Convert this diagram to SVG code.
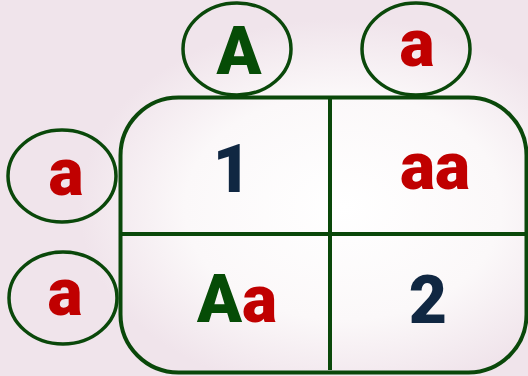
<svg xmlns="http://www.w3.org/2000/svg" width="528" height="376" viewBox="0 0 528 376">
<defs>
<radialGradient id="bg" cx="0.65" cy="0.55" r="0.5">
<stop offset="0" stop-color="#ffffff"/>
<stop offset="0.6" stop-color="#fbf8f9"/>
<stop offset="1" stop-color="#f0e4eb"/>
</radialGradient>
<style>
.ln{fill:none;stroke:#0a480a;stroke-width:4}
.el{fill:none;stroke:#0a480a;stroke-width:3.5}
text{font-family:Roboto,"Liberation Sans",sans-serif;font-weight:900;text-anchor:middle}
.g{fill:#064c06}.r{fill:#c00000}.n{fill:#102742}
</style>
</defs>
<rect width="528" height="376" fill="#f0e4eb"/>
<rect width="528" height="376" fill="url(#bg)"/>
<g id="connectors">
<rect class="ln" x="120.5" y="97.5" width="406" height="275" rx="58" ry="58"/>
<line class="ln" x1="330" y1="97.5" x2="330" y2="370"/>
<line class="ln" x1="120.5" y1="234" x2="528" y2="234"/>
</g>
<g id="top-A"><ellipse class="el" cx="237" cy="49" rx="54" ry="46"/><text class="g" x="239" y="74" font-size="66">A</text></g>
<g id="top-a"><ellipse class="el" cx="416" cy="49" rx="54" ry="46"/><text class="r" x="417" y="66" font-size="66">a</text></g>
<g id="left-a1"><ellipse class="el" cx="62" cy="176" rx="54" ry="46"/><text class="r" x="66" y="195" font-size="66">a</text></g>
<g id="left-a2"><ellipse class="el" cx="63" cy="298" rx="54" ry="46"/><text class="r" x="65" y="315" font-size="66">a</text></g>
<g id="cell-1"><text class="n" x="232" y="192" font-size="66">1</text></g>
<g id="cell-aa"><text class="r" x="435" y="189" font-size="66">aa</text></g>
<g id="cell-Aa"><text x="237" y="322" font-size="66"><tspan class="g">A</tspan><tspan class="r">a</tspan></text></g>
<g id="cell-2"><text class="n" x="428" y="323" font-size="66">2</text></g>
</svg>
